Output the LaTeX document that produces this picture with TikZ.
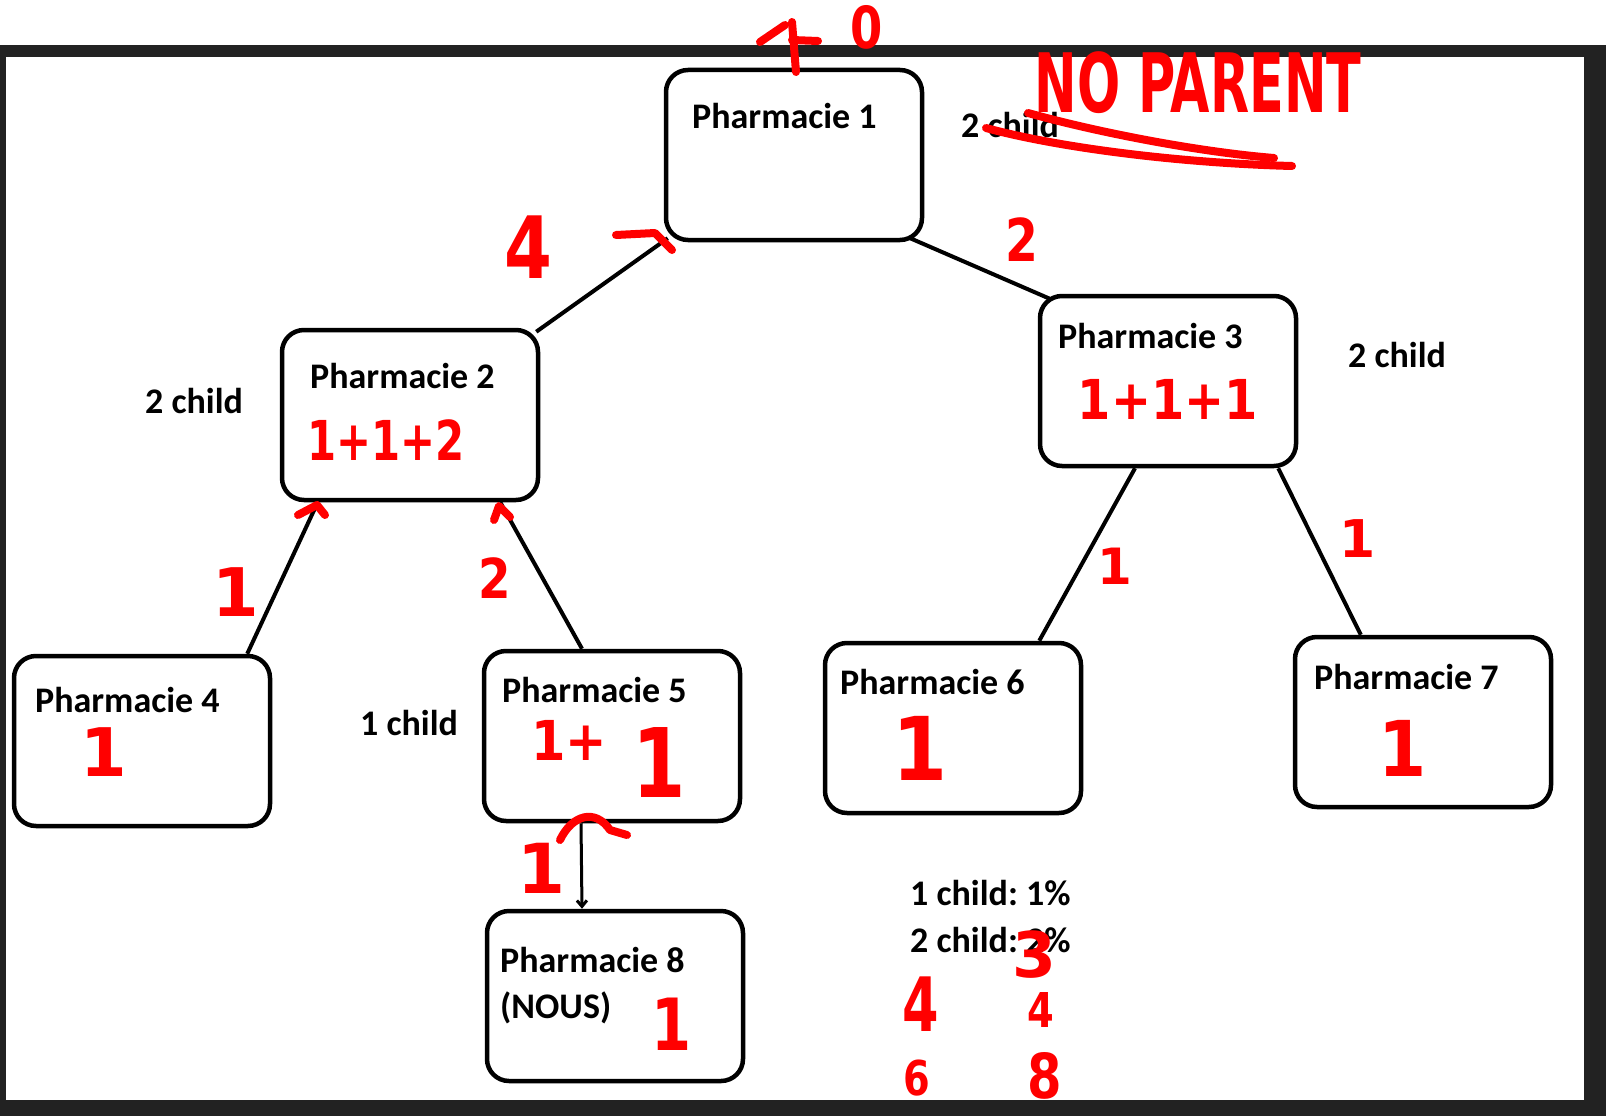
\documentclass[tikz,border=0pt]{standalone}
\usepackage{fontspec}
\newfontfamily\boxfont{Carlito}
\newfontfamily\markfont{DejaVu Sans}
\usetikzlibrary{arrows.meta}
\definecolor{annot}{RGB}{255,0,0}
\definecolor{frame}{RGB}{34,34,34}
\tikzset{
	box/.style={draw, line width=4.5pt, rounded corners=22pt, minimum width=256pt, minimum height=170pt, inner sep=0pt},
	lbl/.style={anchor=base west, inner sep=0pt, font=\frenchspacing\boxfont\bfseries\fontsize{36}{44}\selectfont},
	link/.style={line width=4pt},
	hand/.style={draw=annot, line width=8pt, line cap=round, line join=round},
	redtxt/.style={text=annot, inner sep=0pt, font=\markfont\bfseries\fontsize{#1}{#1}\selectfont},
}
\newcommand{\squeeze}[2]{\scalebox{#1}[1]{#2}}
\begin{document}
\begin{tikzpicture}[x=1pt,y=-1pt]
	\useasboundingbox (0,0) rectangle (1606,1116);
	% window frame
	\fill[white] (0,0) rectangle (1606,1116);
	\fill[frame] (0,45) rectangle (1606,1116);
	\fill[white] (6,57) rectangle (1584,1100);
	% boxes
	\foreach \n/\x/\y/\tx/\ty in {1/794/155/692/128, 2/410/415/310/388, 3/1168/381/1058/348, 4/142/741/35/712,
		5/612/736/502/702, 6/953/728/840/694, 7/1423/722/1314/689, 8/615/996/500/972}
	{
		\node[box] (p\n) at (\x,\y) {};
		\node[lbl] (t\n) at (\tx,\ty) {Pharmacie \n};
	}
	\node[lbl] (nous) at (500,1018) {(NOUS)};
	% links
	\draw[link] ([shift={(4,-4)}]p1.south west) -- ([shift={(-4,4)}]p2.north east);
	\draw[link] ([shift={(-14,-4)}]p1.south east) -- ([shift={(12,5)}]p3.north west);
	\draw[link] ([xshift=38pt]p2.south west) -- ([xshift=-25pt]p4.north east);
	\draw[link] ([xshift=-40pt]p2.south east) -- ([xshift=-30pt]p5.north);
	\draw[link] ([xshift=-33pt]p3.south) -- ([xshift=-44pt]p6.north east);
	\draw[link] ([xshift=-20pt]p3.south east) -- ([xshift=68pt]p7.north west);
	\draw[line width=3pt, -{Straight Barb[length=6pt,width=10pt]}] ([xshift=-31pt]p5.south) -- ([xshift=-33pt]p8.north);
	% side labels
	\node[lbl] (c1) at (961,137) {2 child};
	\node[lbl] (c2) at (145,413) {2 child};
	\node[lbl] (c3) at (1348,367) {2 child};
	\node[lbl] (c5) at (360,735) {1 child};
	\node[lbl] (leg1) at (910,905) {1 child: 1\%};
	\node[lbl] (leg2) at (910,952) {2 child: 2\%};
	% red notes
	\draw[hand] (760,42) -- (785,25);
	\draw[hand] (792,22) -- (796,72);
	\draw[hand] (792,40) -- (818,41);
	\node[redtxt=58] (zero) at (867,27) {\squeeze{0.8}{0}};
	\node[redtxt=82] (noparent) at (1198,83) {\squeeze{0.62}{NO PARENT}};
	\draw[hand] (1028,113) .. controls (1100,133) and (1200,152) .. (1274,158);
	\draw[hand] (986,128) .. controls (1060,148) and (1180,163) .. (1292,166);
	\draw[hand] (616,235) -- (655,233) -- (672,250);
	\node[redtxt=86] (w12) at (528,247) {\squeeze{0.8}{4}};
	\node[redtxt=59] (w13) at (1022,240) {\squeeze{0.8}{2}};
	\node[redtxt=55] (s2) at (386,440) {\squeeze{0.76}{1+1+2}};
	\node[redtxt=55] (s3) at (1168,399) {\squeeze{0.87}{1+1+1}};
	\draw[hand] (298,515) -- (317,505) -- (325,515);
	\draw[hand] (494,520) -- (499,506) -- (510,517);
	\node[redtxt=67] (w24) at (236,592) {1};
	\node[redtxt=55] (w25) at (495,578) {\squeeze{0.85}{2}};
	\node[redtxt=50] (w36) at (1115,566) {1};
	\node[redtxt=52] (w37) at (1358,539) {1};
	\node[redtxt=67] (s4) at (104,752) {1};
	\node[redtxt=55] (s5a) at (569,740) {\squeeze{0.9}{1+}};
	\node[redtxt=96] (s5b) at (659,762) {\squeeze{0.8}{1}};
	\draw[hand] (560,840) .. controls (572,815) and (595,808) .. (610,830) -- (627,835);
	\node[redtxt=69] (w58) at (541,868) {1};
	\node[redtxt=88] (s6) at (920,748) {\squeeze{0.9}{1}};
	\node[redtxt=77] (s7) at (1403,748) {\squeeze{0.9}{1}};
	\node[redtxt=72] (s8) at (672,1024) {\squeeze{0.8}{1}};
	\node[redtxt=63] (three) at (1034,955) {3};
	\node[redtxt=75] (fourA) at (921,1004) {\squeeze{0.7}{4}};
	\node[redtxt=48] (fourB) at (1041,1010) {\squeeze{0.8}{4}};
	\node[redtxt=48] (six) at (917,1078) {\squeeze{0.8}{6}};
	\node[redtxt=62] (eight) at (1045,1076) {\squeeze{0.8}{8}};
\end{tikzpicture}
\end{document}
